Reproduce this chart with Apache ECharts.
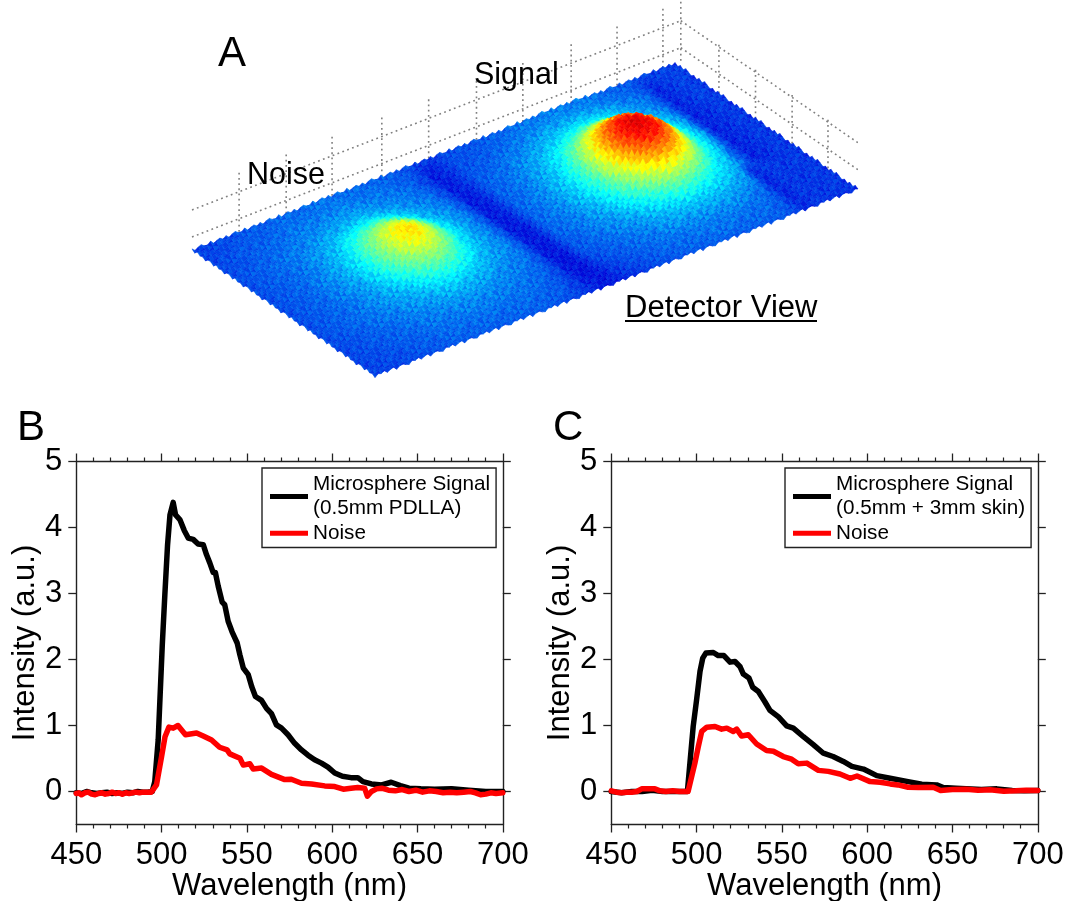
<!DOCTYPE html>
<html><head><meta charset="utf-8">
<style>html,body{margin:0;padding:0;background:#fff}#c{width:1065px;height:901px}</style>
<script src="https://cdn.jsdelivr.net/npm/echarts@6/dist/echarts.min.js"></script>
</head><body><div id="c"></div>
<script>
// Panel B
const bSignalNm=[450,453,456,459,462,465,468,471,474,477,480,483,486,489,492,494.5,496,498,500.4,501.9,503.5,504.9,506.8,508.2,510.7,513.2,515.6,518.5,521.4,524.4,526.3,528.3,530.2,531.5,533.2,535.5,537,539,541.3,544.3,545.9,547.9,550.8,552.8,555,558.6,561.5,564.4,567.3,570.3,574.1,578,582,585.8,589.7,593.7,597.5,601.5,606,611,615,618,623,629,634.6,640,645,652,660,670,680,690,700];
const bSignal=[-0.02,-0.03,0.0,-0.02,-0.03,-0.02,-0.01,-0.03,-0.02,-0.03,-0.01,-0.02,0.0,-0.01,-0.01,0.0,0.15,0.78,2.22,2.98,3.74,4.19,4.38,4.19,4.12,3.96,3.84,3.82,3.75,3.74,3.59,3.46,3.32,3.32,3.11,2.87,2.83,2.58,2.42,2.25,2.07,1.87,1.77,1.59,1.44,1.38,1.26,1.18,1.01,0.96,0.86,0.73,0.63,0.55,0.48,0.43,0.37,0.28,0.23,0.21,0.21,0.15,0.115,0.1,0.14,0.09,0.05,0.04,0.035,0.04,0.02,0.0,0.0];
const bNoiseNm=[450,451.5,453,455,457,459,461,463,465,467,469,471,473,475,477,479,481,483,485,487,489,491,494,497,500,502,504.3,506.8,509.6,514,520.5,524.4,529.3,534,538.4,540,545.9,547.9,551.7,553.7,558.6,564.4,572.2,576,582,587.9,595.6,601.5,606.5,611,615,619,620.6,623,626,629,633,637,641,645,649,653,657,661,665,669,673,677,681,684,687,690,693,696,700];
const bNoise=[-0.03,-0.02,-0.05,-0.02,-0.01,-0.04,-0.05,-0.03,-0.02,-0.04,-0.03,-0.01,-0.03,-0.02,-0.04,-0.02,-0.03,-0.02,-0.01,-0.02,-0.01,-0.01,-0.01,0.1,0.53,0.83,0.975,0.96,1.0,0.86,0.885,0.84,0.78,0.67,0.63,0.57,0.505,0.4,0.42,0.34,0.355,0.26,0.18,0.185,0.125,0.115,0.085,0.075,0.035,0.05,0.06,0.05,-0.07,0.0,0.04,0.05,0.02,0.01,0.03,0.0,0.02,-0.01,0.01,0.0,-0.02,-0.01,-0.02,-0.01,0.0,-0.02,-0.05,-0.04,-0.02,-0.03,-0.02];
// Panel C
const cSignalNm=[450,456,462,468,474,480,486,492,494.6,498,500,502,503.6,505.5,509.8,512.7,516,519.6,522.5,525.5,527.4,530.7,532.9,536.2,540,543,548,552.8,556.7,562.6,568.4,574.3,580,586,591,597.8,605.6,613.4,624,632,640.7,644.6,652,658,667,676,685,692,700];
const cSignal=[0.0,-0.02,0.0,0.0,0.02,0.0,0.0,0.0,0.0,0.985,1.39,1.82,2.02,2.1,2.106,2.06,2.06,1.96,1.97,1.89,1.78,1.72,1.58,1.515,1.36,1.23,1.13,0.995,0.96,0.83,0.71,0.58,0.53,0.455,0.38,0.34,0.24,0.2,0.15,0.11,0.1,0.06,0.05,0.04,0.03,0.04,0.015,0.01,0.015];
const cNoiseNm=[450,453,456,459,462,465,467.8,471,475.6,478.5,482,486,490,495,499,501,503,506,510.8,514.7,517.7,521.5,523.5,526.4,530.3,535.2,541,545,550.8,555.7,559.6,564.6,571.4,577.2,584,590,594,601.7,607.6,613.4,618,624,630,638.7,643,650,658,665,672,680,687,693,700];
const cNoise=[0.01,-0.01,-0.02,-0.01,-0.01,0.0,0.04,0.04,0.04,0.01,0.0,0.01,0.0,0.0,0.43,0.68,0.91,0.975,0.985,0.945,0.96,0.91,0.945,0.84,0.86,0.72,0.62,0.61,0.53,0.49,0.42,0.43,0.32,0.305,0.265,0.2,0.235,0.15,0.14,0.115,0.1,0.065,0.06,0.065,0.015,0.03,0.035,0.02,0.025,0.005,0.01,0.02,0.015];
const xMajorStep=50, yTicks=[0,1,2,3,4,5];
// Panel A: detector intensity, rows run back to front, columns left to right
const detector=[
[20,19,21,21,22,23,23,24,24,24,25,25,24,24,24,23,23,22,20,19,20,21,22,22,23,24,25,25,26,26,26,26,25,24,23,22,22,19,20,19],
[20,20,21,22,23,23,24,25,25,25,26,26,25,25,25,24,23,22,16,17,21,22,22,23,24,25,26,27,27,28,27,27,26,25,24,23,17,19,20,19],
[20,21,22,23,23,24,25,26,26,27,27,28,27,26,26,25,24,21,15,17,21,22,23,24,25,27,28,30,30,31,31,30,29,27,26,24,16,18,20,18],
[21,21,22,23,24,25,26,27,28,29,30,30,29,28,27,26,25,22,15,17,22,23,24,26,27,29,31,33,35,36,36,34,32,29,27,25,16,18,20,18],
[21,22,23,24,25,26,27,29,31,32,34,35,33,31,29,27,26,23,15,17,22,24,25,27,29,32,35,39,44,47,45,41,36,32,29,26,16,18,20,18],
[21,22,23,24,25,27,29,31,35,39,42,43,40,35,31,29,27,24,15,16,23,24,26,28,31,35,42,50,58,62,60,52,43,35,31,28,16,17,19,18],
[21,22,23,24,25,27,30,33,40,47,52,53,48,41,34,30,28,25,15,16,23,24,26,29,32,38,50,63,73,78,75,64,53,40,33,28,16,17,19,18],
[21,22,23,24,26,28,31,35,45,54,61,62,55,46,37,32,28,25,15,16,23,25,27,30,34,42,56,72,84,88,85,75,59,44,35,29,16,17,19,18],
[21,22,23,24,26,28,31,36,46,56,65,66,58,48,38,32,28,25,15,16,23,25,27,30,34,43,58,76,87,91,88,79,61,45,35,29,16,17,19,18],
[21,22,23,24,26,28,30,35,44,53,60,61,54,45,36,31,28,25,15,15,23,25,27,30,34,41,55,70,83,87,84,73,58,43,35,27,16,17,19,18],
[21,22,23,24,25,27,29,33,39,46,51,52,47,40,34,30,28,25,15,15,23,25,26,29,32,38,48,60,71,75,72,63,51,39,33,25,16,17,19,18],
[21,22,23,24,25,27,29,30,33,38,41,42,39,35,31,29,27,25,15,15,23,24,26,28,30,35,40,48,55,59,56,50,42,35,31,25,16,17,19,18],
[21,22,23,24,25,26,27,29,30,32,34,34,32,31,29,27,26,24,15,15,22,23,25,27,28,31,34,38,41,44,42,39,35,32,29,16,20,18,19,18],
[21,21,22,23,24,25,26,27,28,29,30,30,29,28,27,26,25,23,15,14,22,23,24,25,27,28,30,32,33,34,33,32,31,29,27,16,19,18,19,18],
[20,21,22,23,23,24,25,26,26,27,27,27,27,26,26,25,24,22,15,14,20,22,23,24,25,26,28,29,29,29,29,29,28,26,24,16,19,18,19,18],
[20,21,21,22,23,23,24,25,25,25,26,26,25,25,25,24,23,21,15,14,18,21,22,23,24,25,25,26,26,26,26,26,25,25,23,16,19,18,19,18],
[20,20,21,21,22,23,23,24,24,24,24,24,24,24,24,23,23,20,16,14,17,19,21,22,23,24,24,24,25,25,25,24,24,24,22,16,19,18,19,18],
[20,20,20,21,21,22,22,23,23,23,23,23,23,23,23,22,21,19,17,15,16,18,19,21,22,22,23,23,23,23,23,23,23,23,21,17,19,18,18,17]
];
const wallTicksA=[0.0975,0.195,0.29,0.393,0.49,0.589,0.685,0.785,0.88,0.975,1.012];
const wallTicksB=[0.24,0.44,0.64,0.836];
const wallLevels=[13,40];
const wallTop=59;
const jet=['#000080','#0000d8','#0068f0','#00ffff','#80ff80','#ffff00','#ff8000','#ff0000','#800000'];
// fine surface grain of the photographed plot, a small hand-typed tile
const grain=[
[ 2,-3, 1, 3,-1,-2, 3,-3, 0, 2,-2],
[-2, 1,-3, 0, 3,-1,-3, 2, 3,-2, 1],
[ 3,-1, 2,-2,-3, 3, 1,-2,-1, 3,-3],
[-1, 3,-2, 1, 2,-3, 0, 3,-3, 1, 2],
[ 1,-2, 3,-3, 0, 2,-2,-1, 3,-3, 0],
[-3, 2, 0, 3,-2, 1, 3,-3, 1, 2,-1],
[ 2,-1,-3, 1, 3,-2,-1, 2,-2,-1, 3]
];

const FONT='"Liberation Sans", Arial, sans-serif';
const INK='#222';
// oblique view of the detector plane
const reliefFloor=24, heightK=0.72, grainHeight=0.55;
const view=(a,b,h)=>[a*483+b*183, a*187-b*126+h];
const jetColor=I=>echarts.color.lerp(Math.min(1,Math.max(0,I/100)),jet);
const grainAt=(gx,gy)=>grain[gy%grain.length][gx%grain[0].length];

const nR=detector.length,nC=detector[0].length;
const cells=[];
for(let j=0;j<nR-1;j++)for(let i=0;i<nC-1;i++)cells.push([i,j]);
const SUB=4;
function renderSurface(p,api){
  const i=api.value(0),j=api.value(1);
  const q=[detector[j][i],detector[j][i+1],detector[j+1][i],detector[j+1][i+1]];
  const f=(s,t)=>q[0]*(1-s)*(1-t)+q[1]*s*(1-t)+q[2]*(1-s)*t+q[3]*s*t;
  const P=(ss,tt)=>{const s=ss/SUB,t=tt/SUB;
    const h=Math.max(0,f(s,t)-reliefFloor)*heightK+grainAt(i*SUB+ss,j*SUB+tt)*grainHeight;
    return api.coord(view((i+s)/(nC-1),(j+t)/(nR-1),h));};
  const children=[];
  for(let tt=0;tt<SUB;tt++)for(let ss=0;ss<SUB;ss++){
    const col=jetColor(f((ss+.5)/SUB,(tt+.5)/SUB)+grainAt(i*SUB+ss,j*SUB+tt));
    children.push({type:'polygon',shape:{points:[P(ss,tt),P(ss+1,tt),P(ss+1,tt+1),P(ss,tt+1)]},
      style:{fill:col,stroke:col,lineWidth:0.6}});
  }
  return {type:'group',children};
}
const dotted={color:'#808080',width:1.6,type:[1.8,3.4]};
const wallSeries=[];
const addWall=pts=>wallSeries.push({type:'line',xAxisIndex:4,yAxisIndex:4,data:pts,showSymbol:false,silent:true,lineStyle:dotted,z:1,animation:false,clip:false});
wallLevels.forEach(h=>{addWall([view(0,0,h),view(1.012,0,h)]);addWall([view(1.012,0,h),view(1.012,1,h)]);});
wallTicksA.forEach(a=>addWall([view(a,0,0),view(a,0,wallTop)]));
wallTicksB.forEach(b=>addWall([view(1,b,0),view(1,b,wallTop-8)]));

const zip=(x,y)=>x.map((v,k)=>[v,y[k]]);
const curve=(name,x,y,color,ax)=>({type:'line',name,xAxisIndex:ax,yAxisIndex:ax,data:zip(x,y),showSymbol:false,
  lineStyle:{color,width:5.5,join:'round',cap:'round'},itemStyle:{color},z:color==='#f00'?6:5,animation:false,clip:false});
const axLine={lineStyle:{color:INK,width:1.4}};
const xAx=(grid,top)=>({type:'value',gridIndex:grid,min:450,max:700,interval:xMajorStep,position:top?'top':'bottom',
  axisLine:{show:true,onZero:false,...axLine},axisTick:{show:true,length:8,lineStyle:{color:INK,width:1.3}},
  minorTick:{show:true,splitNumber:5,length:4,lineStyle:{color:INK,width:1.2}},splitLine:{show:false},
  axisLabel:{show:!top,fontFamily:FONT,fontSize:31,color:'#000',margin:15,hideOverlap:false,showMinLabel:true,showMaxLabel:true},
  name:top?'':'Wavelength (nm)',nameLocation:'middle',nameGap:40,nameTextStyle:{fontFamily:FONT,fontSize:31,color:'#000'}});
const yAx=(grid,right)=>({type:'value',gridIndex:grid,min:-0.5,max:5,position:right?'right':'left',
  axisLine:{show:true,onZero:false,...axLine},
  axisTick:{show:true,length:8,customValues:yTicks,lineStyle:{color:INK,width:1.3}},splitLine:{show:false},
  axisLabel:{show:!right,customValues:yTicks,fontFamily:FONT,fontSize:31,color:'#000',margin:14,padding:[4,0,0,0]},
  name:right?'':'Intensity (a.u.)',nameLocation:'middle',nameGap:35,nameRotate:90,nameTextStyle:{fontFamily:FONT,fontSize:31,color:'#000'}});
const legend=(left,name)=>({left,top:468,orient:'vertical',data:[name,'Noise'],icon:'rect',itemWidth:38,itemHeight:5,itemGap:0,
  padding:[4,6,2,8],backgroundColor:'#fff',borderColor:INK,borderWidth:1.4,selectedMode:false,z:20,
  textStyle:{fontFamily:FONT,fontSize:20.7,color:'#000',lineHeight:24.5}});
const sigB='Microsphere Signal\n(0.5mm PDLLA)', sigC='Microsphere Signal\n(0.5mm + 3mm skin)';
const label=(text,x,y,size)=>({type:'text',x,y,z:50,style:{text,font:size+'px '+FONT,fill:'#000',textAlign:'left',textVerticalAlign:'middle'}});

const chart=echarts.init(document.getElementById('c'),null,{renderer:'canvas'});
chart.setOption({
  animation:false,backgroundColor:'#fff',
  grid:[{left:76.3,width:426.5,top:461.5,height:363,outerBoundsMode:'none'},{left:611.3,width:426.5,top:461.5,height:363,outerBoundsMode:'none'},{left:192,width:664,top:40,height:340,outerBoundsMode:'none'}],
  legend:[legend(262,sigB),legend(785,sigC)],
  xAxis:[xAx(0,false),xAx(0,true),xAx(1,false),xAx(1,true),{type:'value',gridIndex:2,min:0,max:664,show:false}],
  yAxis:[yAx(0,false),yAx(0,true),yAx(1,false),yAx(1,true),{type:'value',gridIndex:2,min:-130,max:210,show:false}],
  series:[
    ...wallSeries,
    {type:'custom',xAxisIndex:4,yAxisIndex:4,data:cells,renderItem:renderSurface,z:2,clip:false,silent:true,progressive:0,animation:false},
    curve(sigB,bSignalNm,bSignal,'#000',0),
    curve('Noise',bNoiseNm,bNoise,'#f00',0),
    curve(sigC,cSignalNm,cSignal,'#000',2),
    curve('Noise',cNoiseNm,cNoise,'#f00',2)
  ],
  graphic:[
    label('A',218,54,42),label('Signal',474,76,30.5),label('Noise',247,176,30.5),label('Detector View',625,308,31),
    {type:'line',z:50,shape:{x1:625,y1:321,x2:817,y2:321},style:{stroke:'#000',lineWidth:2}},
    label('B',17,428,42),label('C',553,428,42)
  ]
});
</script></body></html>
